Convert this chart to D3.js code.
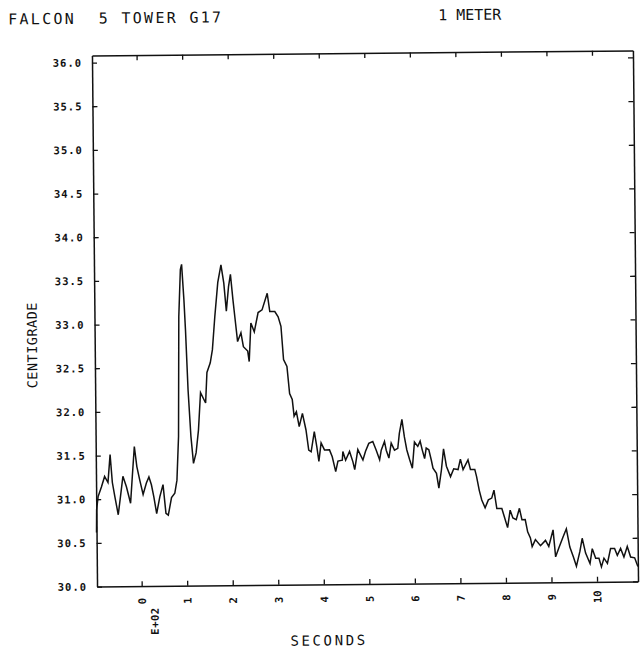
<!DOCTYPE html>
<html>
<head>
<meta charset="utf-8">
<script src="https://cdn.jsdelivr.net/npm/d3@7"></script>
<style>
  html, body { margin: 0; padding: 0; background: #fff; }
  svg { display: block; }
  text { font-family: "DejaVu Sans Mono", monospace; fill: #111; }
</style>
</head>
<body>
<svg id="chart" width="641" height="653"></svg>
<script>
// ---- data (time in units of 100 s, "E+02"; temperature in degrees C) ----
const timeE2 = [
  -0.98, -0.973, -0.938, -0.863, -0.791, -0.718, -0.666, -0.622, -0.571, -0.499,
  -0.446, -0.389, -0.314, -0.226, -0.182, -0.132, -0.081, -0.022, 0.051, 0.125,
  0.182, 0.235, 0.286, 0.345, 0.417, 0.490, 0.549, 0.600, 0.674, 0.747,
  0.797, 0.841, 0.872, 0.916, 0.944, 0.988, 1.016, 1.060, 1.113, 1.164,
  1.223, 1.280, 1.333, 1.443, 1.478, 1.553, 1.603, 1.663, 1.735, 1.808,
  1.867, 1.917, 1.970, 2.014, 2.064, 2.101, 2.158, 2.233, 2.284, 2.378,
  2.409, 2.453, 2.526, 2.614, 2.701, 2.818, 2.871, 2.981, 3.053, 3.113,
  3.163, 3.236, 3.289, 3.346, 3.383, 3.434, 3.493, 3.566, 3.641, 3.697,
  3.750, 3.823, 3.874, 3.918, 3.970, 4.043, 4.153, 4.212, 4.285, 4.336,
  4.432, 4.446, 4.505, 4.593, 4.665, 4.703, 4.775, 4.885, 4.944, 5.017,
  5.105, 5.179, 5.252, 5.289, 5.362, 5.399, 5.456, 5.509, 5.580, 5.653,
  5.690, 5.749, 5.800, 5.851, 5.910, 5.969, 6.020, 6.092, 6.145, 6.189,
  6.240, 6.277, 6.334, 6.387, 6.422, 6.497, 6.547, 6.607, 6.657, 6.717,
  6.805, 6.877, 6.972, 7.025, 7.082, 7.192, 7.244, 7.339, 7.376, 7.433,
  7.486, 7.558, 7.631, 7.705, 7.756, 7.815, 7.925, 7.975, 8.048, 8.107,
  8.166, 8.239, 8.311, 8.364, 8.436, 8.487, 8.546, 8.583, 8.656, 8.766,
  8.876, 8.948, 9.045, 9.096, 9.168, 9.265, 9.337, 9.410, 9.485, 9.551,
  9.630, 9.683, 9.755, 9.850, 9.902, 9.975, 10.047, 10.100, 10.157, 10.232,
  10.304, 10.392, 10.451, 10.524, 10.596, 10.671, 10.743, 10.831, 10.900
];
const tempC = [
  30.62, 30.88, 31.03, 31.14, 31.26, 31.19, 31.51, 31.19, 31.03, 30.82,
  31.03, 31.26, 31.14, 30.95, 31.26, 31.60, 31.37, 31.22, 31.05, 31.18,
  31.25, 31.16, 31.02, 30.83, 31.02, 31.16, 30.83, 30.81, 31.01, 31.06,
  31.21, 31.71, 33.08, 33.62, 33.68, 33.27, 32.93, 32.24, 31.71, 31.40,
  31.52, 31.78, 32.21, 32.09, 32.44, 32.55, 32.70, 33.08, 33.47, 33.67,
  33.46, 33.14, 33.42, 33.56, 33.27, 33.08, 32.79, 32.89, 32.73, 32.68,
  32.56, 33.00, 32.90, 33.12, 33.15, 33.34, 33.13, 33.13, 33.07, 32.96,
  32.58, 32.50, 32.19, 32.12, 31.93, 31.98, 31.81, 31.96, 31.77, 31.54,
  31.52, 31.75, 31.58, 31.41, 31.62, 31.54, 31.54, 31.46, 31.29, 31.41,
  31.42, 31.52, 31.42, 31.52, 31.40, 31.31, 31.54, 31.42, 31.52, 31.61,
  31.63, 31.53, 31.42, 31.53, 31.63, 31.53, 31.44, 31.61, 31.53, 31.55,
  31.72, 31.88, 31.68, 31.53, 31.42, 31.32, 31.62, 31.57, 31.63, 31.53,
  31.43, 31.55, 31.53, 31.41, 31.32, 31.26, 31.09, 31.30, 31.54, 31.34,
  31.22, 31.31, 31.30, 31.42, 31.30, 31.41, 31.30, 31.30, 31.22, 31.06,
  30.95, 30.86, 30.95, 30.97, 31.06, 30.85, 30.85, 30.76, 30.63, 30.83,
  30.74, 30.72, 30.85, 30.72, 30.72, 30.58, 30.51, 30.41, 30.49, 30.42,
  30.48, 30.41, 30.60, 30.29, 30.39, 30.52, 30.61, 30.40, 30.29, 30.18,
  30.35, 30.50, 30.33, 30.21, 30.38, 30.27, 30.27, 30.17, 30.27, 30.21,
  30.38, 30.38, 30.30, 30.38, 30.28, 30.40, 30.28, 30.27, 30.17
];
const yTickValues = [30.0, 30.5, 31.0, 31.5, 32.0, 32.5, 33.0, 33.5, 34.0, 34.5, 35.0, 35.5, 36.0];
const yTickLabels = ["30.0", "30.5", "31.0", "31.5", "32.0", "32.5", "33.0", "33.5", "34.0", "34.5", "35.0", "35.5", "36.0"];
const xTickValues = [0, 1, 2, 3, 4, 5, 6, 7, 8, 9, 10];
const xTickLabels = ["0", "1", "2", "3", "4", "5", "6", "7", "8", "9", "10"];
const titleLeft = "FALCON  5 TOWER G17";
const titleRight = "1 METER";
const xTitle = "SECONDS";
const yTitle = "CENTIGRADE";
const xExponent = "E+02";

// ---- layout ----
const L = 94.5, R = 635.5, T = 53, B = 584;
const x = d3.scaleLinear().domain([-0.98, 10.9]).range([L, R]);
const y = d3.scaleLinear().domain([30, 36.08]).range([B, T]);

const svg = d3.select("#chart");
svg.append("rect").attr("width", 641).attr("height", 653).attr("fill", "#fff");
// the scanned plot is slightly tilted
const g = svg.append("g").attr("transform", "rotate(-0.55, 366, 320)");

function styleAxis(sel) {
  sel.selectAll(".domain").attr("stroke", "#111").attr("stroke-width", 1.5);
  sel.selectAll(".tick line").attr("stroke", "#111").attr("stroke-width", 1.3);
}

// left axis with labels
const yl = g.append("g").attr("transform", `translate(${L},0)`)
  .call(d3.axisLeft(y).tickValues(yTickValues)
    .tickFormat((d, i) => yTickLabels[i]).tickSize(-5).tickSizeOuter(0).tickPadding(10));
styleAxis(yl);
yl.selectAll("text").attr("font-size", 10.5).attr("font-weight", "bold")
  .attr("letter-spacing", 1).attr("fill", "#111");

// right axis (ticks only)
const yr = g.append("g").attr("transform", `translate(${R},0)`)
  .call(d3.axisRight(y).tickValues(yTickValues).tickFormat("").tickSize(-5).tickSizeOuter(0));
styleAxis(yr);

// top axis (ticks only)
const xt = g.append("g").attr("transform", `translate(0,${T})`)
  .call(d3.axisTop(x).tickValues(xTickValues).tickFormat("").tickSize(-5).tickSizeOuter(0));
styleAxis(xt);

// bottom axis with rotated labels
const xb = g.append("g").attr("transform", `translate(0,${B})`)
  .call(d3.axisBottom(x).tickValues(xTickValues)
    .tickFormat((d, i) => xTickLabels[i]).tickSize(-5).tickSizeOuter(0));
styleAxis(xb);
xb.selectAll("text")
  .attr("x", 0).attr("y", 0).attr("dy", "0.35em")
  .attr("text-anchor", "middle")
  .attr("transform", "translate(0,15) rotate(-90)")
  .attr("font-size", 10.5).attr("font-weight", "bold").attr("fill", "#111");

// exponent label
g.append("text")
  .attr("transform", `translate(${x(0) + 13},619) rotate(-90)`)
  .attr("text-anchor", "middle").attr("dy", "0.35em")
  .attr("font-size", 10.5).attr("font-weight", "bold").attr("letter-spacing", 0.5)
  .text(xExponent);

// data trace
const pts = timeE2.map((t, i) => [t, tempC[i]]);
g.append("path")
  .datum(pts)
  .attr("fill", "none")
  .attr("stroke", "#111")
  .attr("stroke-width", 1.5)
  .attr("stroke-linejoin", "miter")
  .attr("d", d3.line().x(d => x(d[0])).y(d => y(d[1])));

// titles
g.append("text").attr("x", 11).attr("y", 21)
  .attr("font-size", 15).attr("letter-spacing", 2.3)
  .style("white-space", "pre").text(titleLeft);
g.append("text").attr("x", 441).attr("y", 21)
  .attr("font-size", 15).attr("letter-spacing", 0)
  .style("white-space", "pre").text(titleRight);

g.append("text").attr("x", 326).attr("y", 645)
  .attr("text-anchor", "middle")
  .attr("font-size", 14).attr("letter-spacing", 2.6).text(xTitle);

g.append("text")
  .attr("transform", "translate(32,342) rotate(-90)")
  .attr("text-anchor", "middle").attr("dy", "0.35em")
  .attr("font-size", 13.5).attr("letter-spacing", 0.5).text(yTitle);
</script>
</body>
</html>
